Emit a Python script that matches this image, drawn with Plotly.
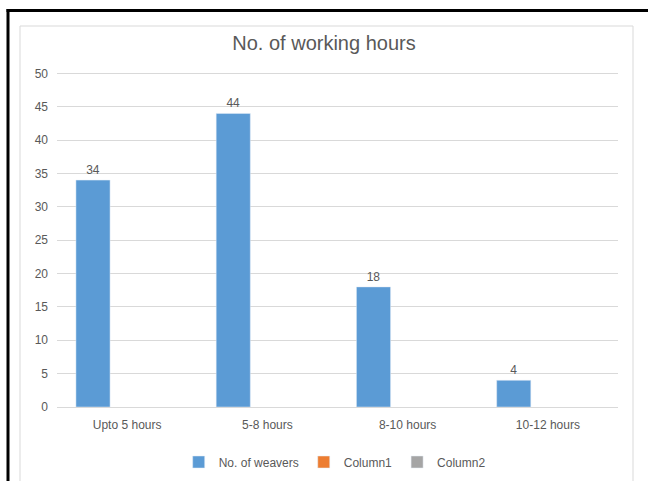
import plotly.graph_objects as go

# Working-hours survey data
categories = ["Upto 5 hours", "5-8 hours", "8-10 hours", "10-12 hours"]
weavers = [34, 44, 18, 4]
column1 = [None, None, None, None]
column2 = [None, None, None, None]

FONT = "Liberation Sans Narrow, Arial Narrow, sans-serif"
TXT = "#595959"

W, H = 648, 481
ML, MR, MT, MB = 57, 30, 70, 74
PW = W - ML - MR
PH = H - MT - MB


def px_x(px):
    return (px - ML) / PW


def px_y(py):
    return (H - MB - py) / PH


fig = go.Figure()
fig.add_trace(go.Bar(
    x=categories, y=weavers, name="No. of weavers",
    marker=dict(color="#5B9BD5"),
    text=[str(v) for v in weavers], textposition="outside",
    textfont=dict(color=TXT, size=12, family=FONT),
    cliponaxis=False,
))
fig.add_trace(go.Bar(x=categories, y=column1, name="Column1",
                     marker=dict(color="#ED7D31")))
fig.add_trace(go.Bar(x=categories, y=column2, name="Column2",
                     marker=dict(color="#A5A5A5")))

shapes = [
    # chart area outline
    dict(type="rect", xref="paper", yref="paper",
         x0=px_x(20), x1=px_x(633), y0=px_y(500), y1=px_y(26),
         line=dict(color="#d9d9d9", width=1), fillcolor="rgba(0,0,0,0)",
         layer="below"),
    # outer frame: top and left edges
    dict(type="line", xref="paper", yref="paper",
         x0=px_x(6.5), x1=px_x(660), y0=px_y(10.5), y1=px_y(10.5),
         line=dict(color="black", width=3)),
    dict(type="line", xref="paper", yref="paper",
         x0=px_x(8), x1=px_x(8), y0=px_y(9), y1=px_y(500),
         line=dict(color="black", width=3)),
]

fig.update_layout(
    width=W, height=H,
    margin=dict(l=ML, r=MR, t=MT, b=MB, autoexpand=False),
    paper_bgcolor="white", plot_bgcolor="white",
    font=dict(family=FONT, color=TXT, size=12),
    title=dict(text="No. of working hours", x=0.5, xanchor="center",
               y=1 - 43 / H, yanchor="middle",
               font=dict(family=FONT, size=20, color=TXT)),
    barmode="group", bargap=0.27, bargroupgap=0,
    showlegend=True,
    legend=dict(orientation="h", x=0.495, xanchor="center",
                y=px_y(462), yanchor="middle",
                font=dict(family=FONT, size=12, color=TXT),
                itemwidth=30, traceorder="normal"),
    shapes=shapes,
)
fig.update_yaxes(range=[0, 50.5], tickvals=list(range(0, 51, 5)),
                 showgrid=True, gridcolor="#d9d9d9",
                 gridwidth=1, zeroline=False, showline=False,
                 tickfont=dict(family=FONT, size=12, color=TXT),
                 ticklabelstandoff=8)
fig.update_xaxes(showgrid=False, showline=True, linecolor="#d9d9d9",
                 linewidth=1, tickfont=dict(family=FONT, size=12, color=TXT),
                 ticklabelstandoff=7)

fig.write_html("out.html")
